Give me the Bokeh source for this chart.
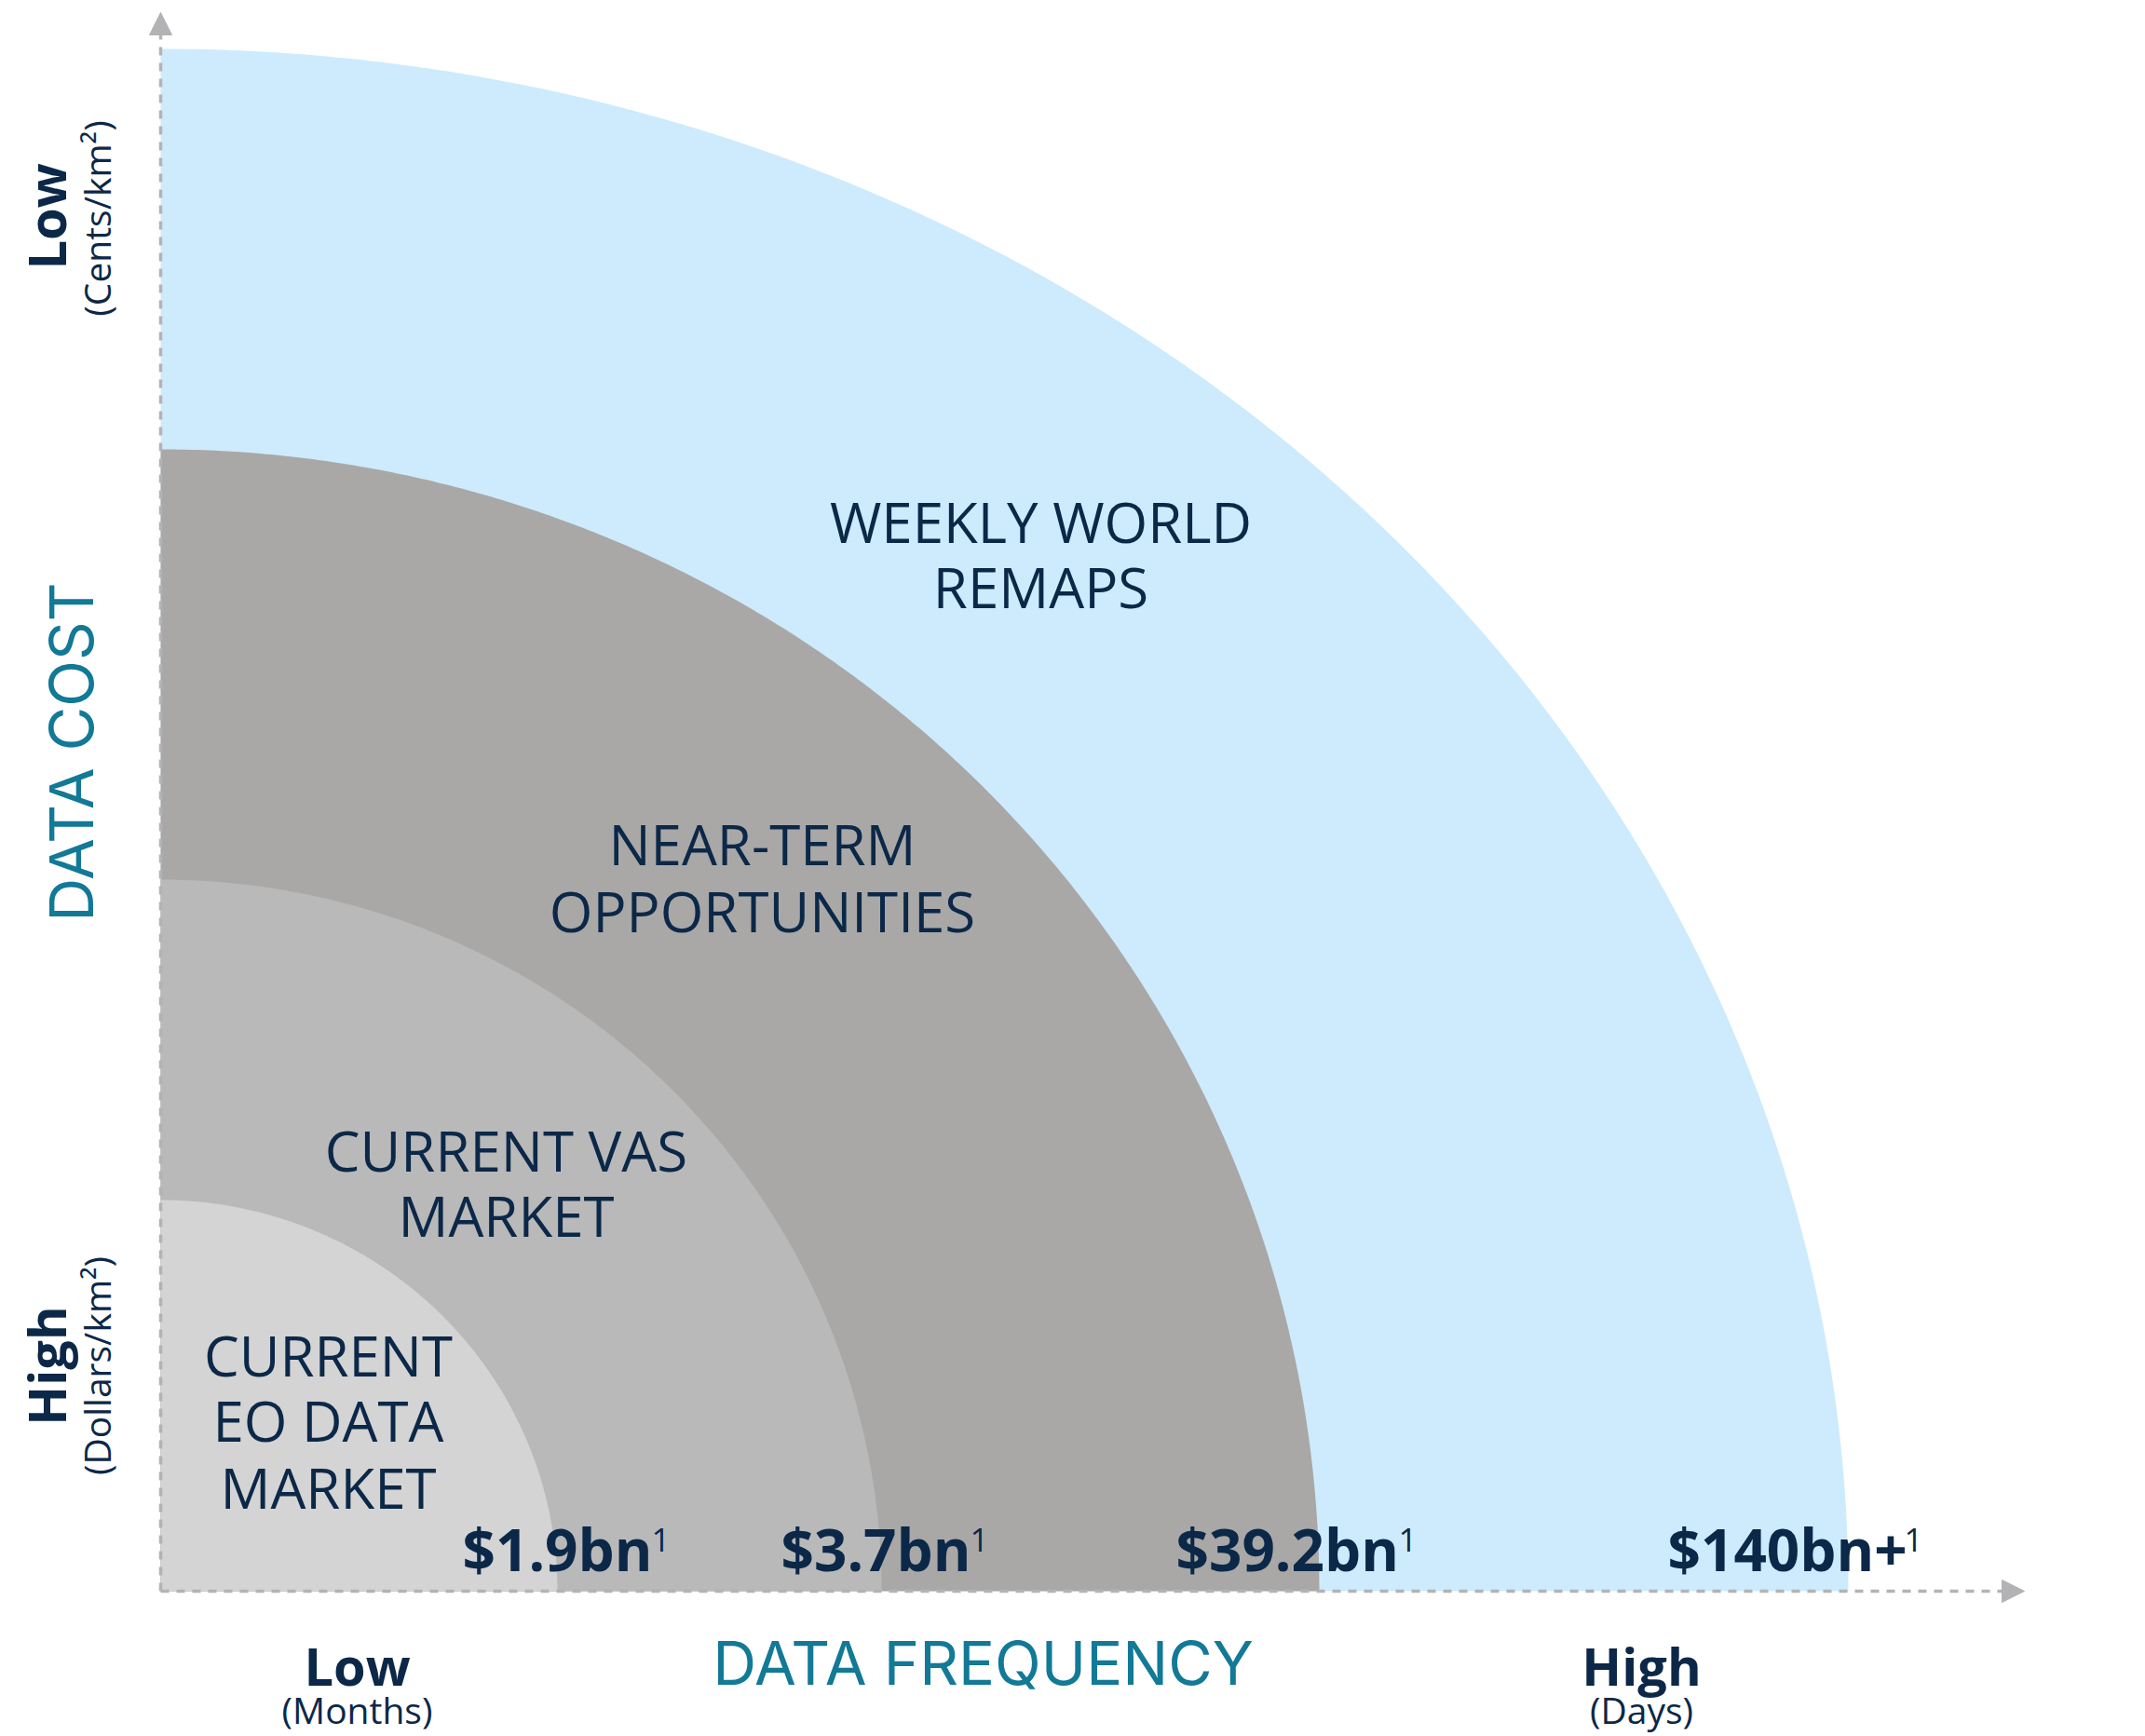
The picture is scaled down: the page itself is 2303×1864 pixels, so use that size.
import numpy as np
from bokeh.plotting import figure
from bokeh.models import Range1d, Arrow, NormalHead
from bokeh.core.properties import value
from bokeh.embed import file_html
from bokeh.resources import INLINE

# ---------------- data ----------------
segments = ["CURRENT EO DATA MARKET", "CURRENT VAS MARKET",
            "NEAR-TERM OPPORTUNITIES", "WEEKLY WORLD REMAPS"]
segment_lines = [["CURRENT", "EO DATA", "MARKET"],
                 ["CURRENT VAS", "MARKET"],
                 ["NEAR-TERM", "OPPORTUNITIES"],
                 ["WEEKLY WORLD", "REMAPS"]]
market_sizes = ["$1.9bn", "$3.7bn", "$39.2bn", "$140bn+"]
footnote_marks = ["1", "1", "1", "1"]
frequency_reach = [426, 774, 1244, 1812]   # extent along the frequency axis
cost_reach = [420, 764, 1226, 1656]        # extent along the cost axis

x_axis_title = "DATA FREQUENCY"
y_axis_title = "DATA COST"
x_end_labels = ["Low", "High"]
x_end_units = ["(Months)", "(Days)"]
y_end_labels = ["Low", "High"]
y_end_units = ["(Cents/km²)", "(Dollars/km²)"]

# ---------------- style ----------------
segment_colors = ["#d4d4d4", "#b9b9b9", "#a9a8a7", "#cdebfd"]
NAVY = "#0c2848"
TEAL = "#127996"
AXIS = "#b3b3b6"

W, H = 2303, 1864
OX, OY = 172, 1708          # origin position on the page
def px(x): return x - OX
def py(y): return OY - y
K_OS, K_IN = 0.388, 0.363   # em-box middle above baseline (Open Sans, Inter)
def mid(b, fs, k=K_OS): return b - k * fs

p = figure(width=W, height=H, output_backend="svg", toolbar_location=None,
           x_range=Range1d(-OX, W - OX), y_range=Range1d(OY - H, OY),
           x_axis_location=None, y_axis_location=None, min_border=0,
           outline_line_color=None, background_fill_color="white")
p.xgrid.visible = False
p.ygrid.visible = False

# quarter-ellipse regions, largest first
theta = np.linspace(0, np.pi / 2, 300)
order = list(range(len(segments)))[::-1]
xs = [np.concatenate([[0.0], frequency_reach[i] * np.cos(theta)]) for i in order]
ys = [np.concatenate([[0.0], cost_reach[i] * np.sin(theta)]) for i in order]
p.patches(xs, ys, fill_color=[segment_colors[i] for i in order], line_color=None)

# axes with arrows
p.add_layout(Arrow(end=NormalHead(size=24, fill_color=AXIS, line_color=AXIS, line_width=1),
                   x_start=0, y_start=0, x_end=px(2173), y_end=0,
                   line_color=AXIS, line_width=3.5, line_dash="9 8"))
p.add_layout(Arrow(end=NormalHead(size=24, fill_color=AXIS, line_color=AXIS, line_width=1),
                   x_start=0, y_start=0, x_end=0, y_end=py(13),
                   line_color=AXIS, line_width=3.5, line_dash="9 8"))

# segment names
FS_SEG = 60
seg_cx = [352, 543, 818, 1117]
seg_base = [[1478, 1548, 1620], [1258, 1328], [929, 1001], [583, 653]]
tx, ty, tt = [], [], []
for i, lines in enumerate(segment_lines):
    for j, line in enumerate(lines):
        tx.append(px(seg_cx[i])); ty.append(py(mid(seg_base[i][j], FS_SEG))); tt.append(line)
p.text(tx, ty, text=tt, text_font=value("Open Sans"), text_font_size=f"{FS_SEG}px",
       text_color=NAVY, text_align="center", text_baseline="alphabetic")

# market sizes with footnote marks
FS_VAL, FS_SUP = 62, 35
val_x = [496, 838, 1262, 1790]
sup_x = [699, 1041, 1501, 2044]
p.text([px(v) for v in val_x], [py(mid(1687, FS_VAL))] * 4, text=market_sizes,
       text_font=value("Open Sans"), text_font_style="bold", text_font_size=f"{FS_VAL}px",
       text_color=NAVY, text_align="left", text_baseline="alphabetic")
p.text([px(v) for v in sup_x], [py(mid(1667, FS_SUP))] * 4, text=footnote_marks,
       text_font=value("Open Sans"), text_font_size=f"{FS_SUP}px",
       text_color=NAVY, text_align="left", text_baseline="alphabetic")

# axis titles
FS_T = 65
p.text([px(1055)], [py(mid(1809, FS_T, K_IN))], text=[x_axis_title], text_font=value("Inter"),
       text_font_size=f"{FS_T}px", text_color=TEAL, text_align="center", text_baseline="alphabetic")
p.text([px(mid(100, FS_T, K_IN))], [py(807)], text=[y_axis_title], text_font=value("Inter"),
       text_font_size=f"{FS_T}px", text_color=TEAL, text_align="center", text_baseline="alphabetic",
       angle=np.pi / 2)

# axis end labels (x)
FS_END, FS_UNIT = 56, 39
p.text([px(383), px(1762)], [py(mid(1809, FS_END))] * 2, text=x_end_labels,
       text_font=value("Open Sans"), text_font_style="bold", text_font_size=f"{FS_END}px",
       text_color=NAVY, text_align="center", text_baseline="alphabetic")
p.text([px(383), px(1762)], [py(mid(1850, FS_UNIT))] * 2, text=x_end_units,
       text_font=value("Open Sans"), text_font_size=f"{FS_UNIT}px", text_color=NAVY,
       text_align="center", text_baseline="alphabetic")

# axis end labels (y)
p.text([px(mid(70, FS_END))] * 2, [py(232), py(1466)], text=y_end_labels,
       text_font=value("Open Sans"), text_font_style="bold", text_font_size=f"{FS_END}px",
       text_color=NAVY, text_align="center", text_baseline="alphabetic", angle=np.pi / 2)
p.text([px(mid(118, FS_UNIT))] * 2, [py(234), py(1466)], text=y_end_units,
       text_font=value("Open Sans"), text_font_size=f"{FS_UNIT}px", text_color=NAVY,
       text_align="center", text_baseline="alphabetic", angle=np.pi / 2)

open("out.html", "w").write(file_html(p, INLINE))
